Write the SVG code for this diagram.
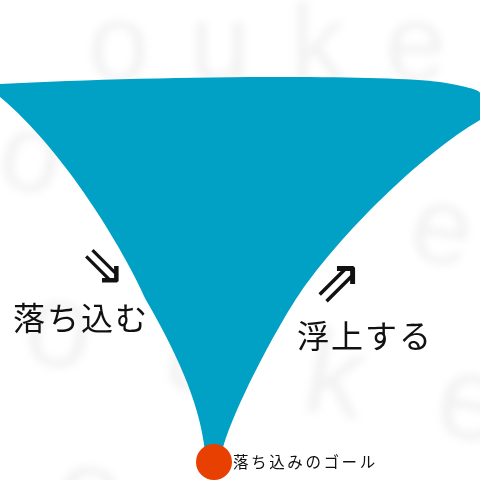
<svg xmlns="http://www.w3.org/2000/svg" width="480" height="480" viewBox="0 0 480 480">
  <defs>
    <filter id="blur" x="-20%" y="-20%" width="140%" height="140%">
      <feGaussianBlur stdDeviation="4.5"/>
    </filter>
  </defs>
  <style>
    .wm { font-family: "Liberation Sans", Arial, sans-serif; fill: #000; fill-opacity: 0.05; }
    .jp { font-family: "Noto Sans CJK JP", "Noto Sans", sans-serif; fill: #111; }
    .arrow { font-family: "DejaVu Sans", sans-serif; fill: #111; }
  </style>
  <rect x="0" y="0" width="480" height="480" fill="#ffffff"/>
  <g id="watermark" filter="url(#blur)">
    <text class="wm" x="88" y="80" font-size="110" letter-spacing="40">ouke</text>
    <text class="wm" x="-5" y="185" font-size="110" letter-spacing="80" transform="rotate(10 -5 185)">ouke</text>
    <text class="wm" x="20" y="360" font-size="120" letter-spacing="75" transform="rotate(10 20 360)">ouke</text>
    <text class="wm" x="50" y="525" font-size="120" letter-spacing="75" transform="rotate(10 50 525)">ouke</text>
  </g>
  <g id="funnel">
    <path d="M 0,84 C 150,76 380,74 440,82 C 465,86 480,90 480,93 L 480,120 C 420,155 340,235 300,293 C 280,322 232,410 222,452 L 205,452 C 200,400 172,345 146,300 C 124,250 64,150 0,97 Z" fill="#01A0C5"/>
  </g>
  <g id="goal">
    <circle cx="214" cy="462" r="18" fill="#E84000"/>
    <text class="jp" x="233" y="468" font-size="15.5" letter-spacing="2.6" fill="#222">落ち込みのゴール</text>
  </g>
  <g id="label-down">
    <text class="arrow" x="80" y="284" font-size="55">⇘</text>
    <text class="jp" x="13" y="330" font-size="32" letter-spacing="2">落ち込む</text>
  </g>
  <g id="label-up">
    <text class="arrow" x="313" y="301" font-size="60">⇗</text>
    <text class="jp" x="297" y="348" font-size="32" letter-spacing="2">浮上する</text>
  </g>
</svg>
